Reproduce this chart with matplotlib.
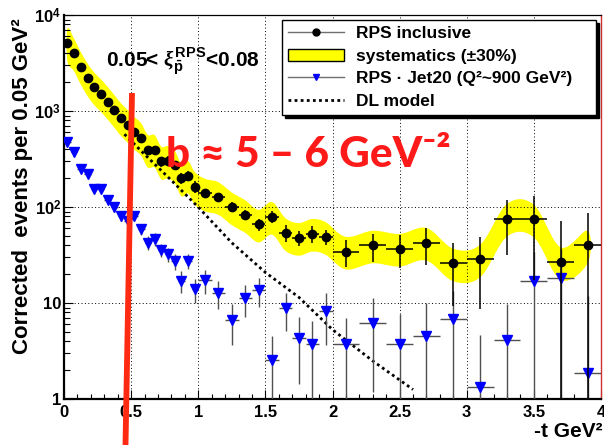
"""
Corrected -t distribution for RPS inclusive and RPS*Jet20 events,
with the +-30% systematics band and the DL model curve.
"""

import numpy as np
import matplotlib
matplotlib.use("Agg")
import matplotlib.pyplot as plt
from matplotlib.lines import Line2D
from matplotlib.patches import Patch

plt.rcParams["font.family"] = ["Liberation Sans", "DejaVu Sans"]
plt.rcParams["font.weight"] = "bold"
plt.rcParams["mathtext.fontset"] = "custom"
plt.rcParams["mathtext.rm"] = "Liberation Sans:bold"
plt.rcParams["mathtext.bf"] = "Liberation Sans:bold"
plt.rcParams["mathtext.it"] = "Liberation Serif:italic"

# ---- data ----
t_bins = [0.025, 0.075, 0.125, 0.175, 0.225, 0.275, 0.325, 0.375, 0.425, 0.475,
          0.525, 0.575, 0.625, 0.675, 0.725, 0.775, 0.825, 0.875, 0.925, 0.975,
          1.05, 1.15, 1.25, 1.35, 1.45, 1.55, 1.65, 1.75, 1.85, 1.95,
          2.1, 2.3, 2.5, 2.7, 2.9, 3.1, 3.3, 3.5, 3.7, 3.9]
t_halfwidth = [0.025] * 20 + [0.05] * 10 + [0.1] * 10

incl = [5090, 4010, 2910, 2210, 1780, 1510, 1260, 1035, 848, 720,
        610, 526, 397, 397, 300, 305, 273, 199, 213, 163,
        139, 128, 100, 83, 66, 79.5, 54, 48, 53, 49,
        34.5, 40, 37, 42.7, 26, 28.6, 76, 74.5, 26.8, 40]
incl_err = [70, 60, 50, 45, 40, 38, 35, 30, 28, 26,
            25, 23, 30, 30, 35, 35, 32, 26, 27, 22,
            14, 13, 12, 10, 9, 11, 11, 9, 11, 9,
            10.5, 13, 14, 18, 16.6, 20, 44, 57, 45, 47]

jet20 = [473, 376, 252, 222, 155, 155, 118, 100, 80.7, 71.6,
         80.7, 58.6, 42.6, 46.2, 35.5, 32.3, 27.5, 17.1, 27.5, 14.0,
         17.3, 12.9, 6.7, 11.2, 13.7, 2.58, 9.0, 4.34, 3.75, 8.2,
         3.75, 6.2, 3.75, 4.5, 6.9, 1.33, 4.16, 17.1, 18.5, 1.88]
jet20_err = [22, 19, 16, 15, 12, 12, 11, 10, 9, 8.5,
             9, 7.5, 7, 7, 5.5, 5.5, 5.3, 4.3, 5, 4,
             4.7, 4.3, 3, 4.1, 4.5, 2, 3.9, 2.9, 2.8, 4.5,
             3.2, 5, 3.9, 5.5, 6.5, 3.3, 5.6, 17, 18, 10]

dl_t = [0.45, 0.6, 0.8, 1.0, 1.25, 1.5, 1.75, 2.0, 2.3, 2.6]
dl_val = [575, 355, 190, 100, 42.5, 20.9, 11.5, 5.3, 2.5, 1.26]

# drawn band edges (the ROOT band looks a bit wider than a plain +-30%)
band_hi = 1.42
band_lo = 0.65

RED = "#ff1a1a"


def smooth_closed(px, py, n=14):
    """closed Catmull-Rom curve through the polygon vertices"""
    P = np.column_stack([px, py])
    N = len(P)
    t = np.linspace(0, 1, n, endpoint=False)[:, None]
    out = []
    for i in range(N):
        p0, p1, p2, p3 = P[i - 1], P[i], P[(i + 1) % N], P[(i + 2) % N]
        out.append(0.5 * (2 * p1 + (-p0 + p2) * t
                          + (2 * p0 - 5 * p1 + 4 * p2 - p3) * t ** 2
                          + (-p0 + 3 * p1 - 3 * p2 + p3) * t ** 3))
    out = np.vstack(out)
    return out[:, 0], out[:, 1]


fig = plt.figure(figsize=(6.04, 4.45), dpi=100)
ax = fig.add_axes([0.106, 0.103, 0.889, 0.863])
ax.set_yscale("log")
ax.set_xlim(0, 4)
ax.set_ylim(1, 1e4)

# systematics band, smoothed in (roughly) pixel space like ROOT does
t = np.array(t_bins)
y = np.array(incl)
bx = np.concatenate([t, t[::-1]]) * 134.3
by = np.log10(np.concatenate([y * band_hi, (y * band_lo)[::-1]])) * 96.3
sx, sy = smooth_closed(bx, by)
ax.fill(sx / 134.3, 10 ** (sy / 96.3), color="#ffff00", lw=0, zorder=1)

ax.plot(dl_t, dl_val, color="black", lw=2.0, ls=(0, (1, 1.2)), zorder=3)

ax.errorbar(t_bins, jet20, xerr=t_halfwidth, yerr=jet20_err, fmt="v",
            color="#0000ff", ms=6.5, ecolor="#505050", elinewidth=1.0,
            capsize=0, zorder=4)
ax.errorbar(t_bins, incl, xerr=t_halfwidth, yerr=incl_err, fmt="o",
            color="black", ms=6, ecolor="black", elinewidth=1.1,
            capsize=0, zorder=5)

# axes styling (ROOT-like)
ax.set_xticks([0, 0.5, 1, 1.5, 2, 2.5, 3, 3.5, 4])
ax.set_xticklabels(["0", "0.5", "1", "1.5", "2", "2.5", "3", "3.5", "4"])
ax.set_xticks(np.arange(0, 4.01, 0.1), minor=True)
ax.set_yticks([1, 10, 100, 1000, 10000])
ax.set_yticklabels(["1", "10", "$10^2$", "$10^3$", "$10^4$"])
ax.tick_params(which="both", direction="in", top=False, right=False,
               labelsize=12, width=0.8)
ax.tick_params(axis="x", which="major", length=6.5, pad=4)
ax.tick_params(axis="x", which="minor", length=3.5)
ax.tick_params(axis="y", which="major", length=6.5, pad=2)
ax.tick_params(axis="y", which="minor", length=4)
ax.grid(True, which="major", color="black", lw=0.7, ls=(0, (1, 2.5)))
ax.spines["left"].set_linewidth(1.6)
ax.spines["bottom"].set_linewidth(1.6)
ax.spines["top"].set_linewidth(0.9)
ax.spines["right"].set_color("#d03030")
ax.spines["right"].set_linewidth(1.0)

fig.text(0.038, 0.582, "Corrected  events per 0.05 GeV²", rotation=90,
         ha="center", va="center", fontsize=16, fontweight="bold")
fig.text(0.998, 0.01, "-t GeV²", ha="right", va="bottom", fontsize=15,
         fontweight="bold")

ax.text(0.078, 0.88, r"0.05< $\xi^{\rm RPS}_{\bar{\rm p}}$<0.08",
        transform=ax.transAxes, fontsize=15, fontweight="bold",
        va="center", ha="left", zorder=6)

# legend
handles = [
    Line2D([], [], color="#707070", lw=1.0, marker="o", ms=5,
           markerfacecolor="black", markeredgecolor="black"),
    Patch(facecolor="#ffff00", edgecolor="black", lw=1.0),
    Line2D([], [], color="#707070", lw=1.0, marker="v", ms=5,
           markerfacecolor="#0000ff", markeredgecolor="#0000ff"),
    Line2D([], [], color="black", lw=2.0, ls=(0, (1, 1.2))),
]
labels = ["RPS inclusive", "systematics (±30%)",
          "RPS · Jet20 (Q²~900 GeV²)", "DL model"]
leg = ax.legend(handles, labels, loc="upper left",
                bbox_to_anchor=(0.406, 0.75, 0.585, 0.237), mode="expand",
                borderaxespad=0, fontsize=12.5, frameon=True, fancybox=False,
                shadow={"color": "black", "alpha": 1.0}, handlelength=3.2,
                handletextpad=0.7, labelspacing=0.42, borderpad=0.35)
leg.get_frame().set_edgecolor("black")
leg.get_frame().set_linewidth(1.0)
leg.get_frame().set_alpha(1.0)
leg.set_zorder(8)
for txt in leg.get_texts():
    txt.set_fontweight("bold")

# slope annotation
fig.text(166 / 604, 1 - 167 / 445, "b ≈ 5 – 6 GeV⁻²", color=RED,
         fontsize=30.5, fontweight="black", family=["Lato", "DejaVu Sans"],
         ha="left", va="baseline", zorder=10)
fig.add_artist(Line2D([132 / 604, 125.5 / 604], [1 - 93 / 445, 0],
                      transform=fig.transFigure, color="#ff2a12", lw=4.2,
                      solid_capstyle="butt", zorder=10))

fig.savefig("out.png", dpi=100)
print("saved out.png")
